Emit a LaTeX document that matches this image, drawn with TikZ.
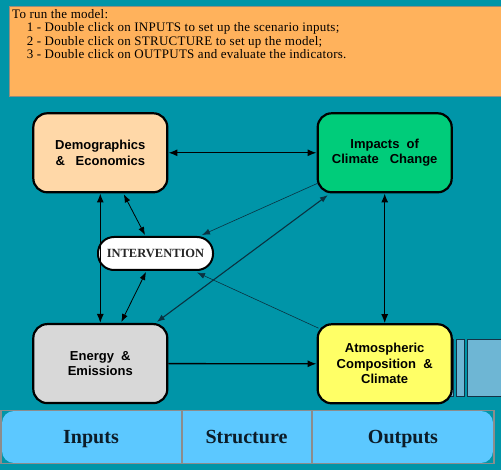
\documentclass[tikz,border=0pt]{standalone}
\usepackage{fontspec}
\setmainfont{Liberation Serif}
\newfontfamily\boxfont{Liberation Sans}
\newfontfamily\hdrfont[LetterSpace=2]{Liberation Serif}
\usetikzlibrary{arrows.meta,calc}
\definecolor{bgteal}{RGB}{0,149,168}
\definecolor{hdrorange}{RGB}{255,178,92}
\definecolor{hdrborder}{RGB}{150,140,125}
\definecolor{peach}{RGB}{255,216,168}
\definecolor{impgreen}{RGB}{0,204,122}
\definecolor{engray}{RGB}{216,216,216}
\definecolor{atyellow}{RGB}{255,255,102}
\definecolor{barblue}{RGB}{92,200,255}
\definecolor{bargray}{RGB}{140,140,140}
\definecolor{smallbar}{RGB}{110,182,212}
\definecolor{smallbarline}{RGB}{20,50,70}
\definecolor{linedark}{RGB}{10,50,65}
\definecolor{labeldark}{RGB}{12,28,40}
\begin{document}
\begin{tikzpicture}[x=1pt,y=-1pt,
  box/.style={draw=black, line width=2.2pt, rounded corners=14pt,
    minimum width=134pt, minimum height=79pt, align=center, inner sep=0pt,
    font=\boxfont\bfseries\fontsize{13}{15.5}\selectfont},
  intbox/.style={draw=black, fill=white, line width=2pt, rounded corners=16pt,
    minimum width=115pt, minimum height=33pt, inner sep=0pt,
    font=\bfseries\fontsize{12.5}{14}\selectfont, text=black!85},
  hdrtext/.style={anchor=base west, inner sep=0pt, font=\hdrfont\fontsize{13}{13.5}\selectfont},
  tablabel/.style={anchor=base, inner sep=0pt, text=labeldark, font=\bfseries\fontsize{20}{22}\selectfont},
  bigarrow/.style={{Latex[length=9pt,width=7pt]}-{Latex[length=9pt,width=7pt]}, line width=1.3pt, black},
  medarrow/.style={{Latex[length=8pt,width=6pt]}-{Latex[length=8pt,width=6pt]}, line width=0.8pt, black},
  onearrow/.style={-{Latex[length=9pt,width=7pt]}, line width=1.3pt, linedark},
  darkarrow/.style={{Latex[length=8pt,width=6pt]}-{Latex[length=8pt,width=6pt]}, line width=1.1pt, linedark},
  thinarrow/.style={-{Latex[length=8pt,width=6pt]}, line width=0.6pt, linedark},
  sbar/.style={fill=smallbar, draw=smallbarline, line width=1pt}
]
\useasboundingbox (0,0) rectangle (501,470);
\fill[bgteal] (0,0) rectangle (501,470);

% header panel
\draw[fill=hdrorange, draw=hdrborder, line width=1pt] (9.5,6.5) rectangle (503,97);
\node[hdrtext] (h0) at (12,18.5) {To run the model:};
\node[hdrtext] (h1) at (26.7,32) {1 - Double click on INPUTS to set up the scenario inputs;};
\node[hdrtext] (h2) at (26.7,45.5) {2 - Double click on STRUCTURE to set up the model;};
\node[hdrtext] (h3) at (26.7,59) {3 - Double click on OUTPUTS and evaluate the indicators.};

% small bars to the right of the atmospheric box
\draw[sbar] (446,340) rectangle (453,397);
\draw[sbar] (456,340) rectangle (464.3,397);
\draw[sbar] (467.7,340) rectangle (505,397);

% boxes
\node[box, fill=peach] (demo) at (100.3,152.8) {Demographics\\\&~~~Economics};
\node[box, fill=impgreen] (impacts) at (384.7,152.8) {Impacts~~of\\Climate~~~Change};
\node[box, fill=engray] (energy) at (100.3,363.6) {Energy~~\&\\Emissions};
\node[box, fill=atyellow] (atmos) at (384.7,363.8) {Atmospheric\\Composition~~\&\\Climate};
\node[intbox] (int) at (155.5,253.5) {INTERVENTION};

% connectors
\draw[bigarrow] (demo.east) -- (impacts.west);
\draw[bigarrow] (impacts.south) -- (atmos.north);
\draw[bigarrow] (demo.south) -- (energy.north);
\draw[onearrow, black] (energy.east) -- (atmos.west);
\draw[medarrow] ($(demo.south)+(23.5,1)$) -- ($(int.north)+(-10.5,-1)$);
\draw[medarrow] ($(int.south)+(-9.5,1)$) -- ($(energy.north)+(21,-1)$);
\draw[darkarrow] ($(energy.north)+(56.5,-1)$) -- ($(impacts.south west)+(11.3,1.7)$);
\draw[thinarrow] ($(impacts.west)+(1,30.5)$) -- ($(int.north east)+(-12,-1)$);
\draw[thinarrow] ($(atmos.north west)+(2,5)$) -- ($(int.south east)+(-17,1.5)$);

% bottom tab bar
\fill[barblue, rounded corners=12pt] (2,411) rectangle (493,463);
\draw[bargray, line width=1.3pt] (1,410.5) rectangle (494,463.5);
\draw[bargray, line width=1.2pt] (182,410.5) -- (182,463.5);
\draw[bargray, line width=1.2pt] (312,410.5) -- (312,463.5);
\node[tablabel] (inputs) at (91,443) {Inputs};
\node[tablabel] (structure) at (246.5,443) {Structure};
\node[tablabel] (outputs) at (403,443) {Outputs};
\end{tikzpicture}
\end{document}
